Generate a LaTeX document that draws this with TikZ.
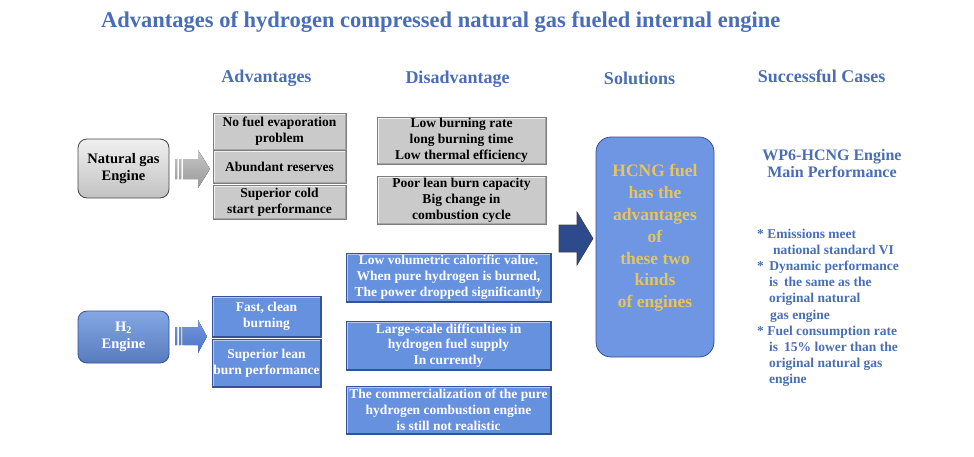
\documentclass[tikz,border=0pt]{standalone}
\usepackage{fontspec}
\setmainfont{Liberation Serif}
\definecolor{ttl}{RGB}{74,110,182}
\definecolor{gfill}{RGB}{202,202,202}
\definecolor{gedge}{RGB}{125,125,125}
\definecolor{bfill}{RGB}{102,145,222}
\definecolor{bedge}{RGB}{52,82,148}
\definecolor{sfill}{RGB}{110,150,226}
\definecolor{gold}{RGB}{232,196,92}
\definecolor{darr}{RGB}{44,74,140}
\definecolor{garr}{RGB}{135,135,135}
\definecolor{barr}{RGB}{72,116,202}
\tikzset{
  bev/.style 2 args={path picture={
    \draw[line width=3pt,#1] (path picture bounding box.south west) -- (path picture bounding box.north west) -- (path picture bounding box.north east);
    \draw[line width=3pt,#2] (path picture bounding box.north east) -- (path picture bounding box.south east) -- (path picture bounding box.south west);}},
  boxfont/.style={font=\bfseries\fontsize{13.5}{15.8}\selectfont},
  gbox/.style={rectangle, draw=gedge, line width=0.6pt, fill=gfill, bev={gray!12}{gray!70}, align=center, boxfont, inner sep=0pt},
  bbox/.style={rectangle, draw=bedge, line width=0.6pt, fill=bfill, bev={bfill!50!white}{bedge}, align=center, text=white, boxfont, inner sep=0pt},
  hdr/.style={text=ttl, font=\bfseries\fontsize{18}{21}\selectfont, anchor=base, inner sep=0pt},
  engbox/.style={rounded corners=9pt, line width=0.8pt, align=center, font=\bfseries\fontsize{14.5}{17}\selectfont, minimum width=91pt, inner sep=0pt},
}
\begin{document}
\begin{tikzpicture}[x=1pt,y=-1pt]
\useasboundingbox (0,0) rectangle (974,456);
\fill[white] (0,0) rectangle (974,456);

% title and headers
\node[anchor=base west, inner sep=0pt, text=ttl, font=\bfseries\fontsize{22.5}{26}\selectfont] (title) at (101,27) {Advantages of hydrogen compressed natural gas fueled internal engine};
\node[hdr] (hadv) at (266.5,82) {Advantages};
\node[hdr] (hdis) at (457.5,83) {Disadvantage};
\node[hdr] (hsol) at (639.5,84) {Solutions};
\node[hdr] (hcas) at (821.5,82) {Successful Cases};

% natural gas engine
\node[engbox, draw=gray!55!black, top color=gray!12, bottom color=gray!48, minimum height=59pt] (ng) at (123.5,168.5) {Natural gas\\Engine};
\fill[top color=gray!45, bottom color=gray!80] (175,159) rectangle (177,179) (179,159) rectangle (181,179)
  (183,159) -- (198,159) -- (198,150) -- (210,169) -- (198,188) -- (198,179) -- (183,179) -- cycle;

\node[gbox, minimum width=133pt, minimum height=37pt] (a1) at (279.5,131.5) {No fuel evaporation\\problem};
\node[gbox, minimum width=133pt, minimum height=33pt] (a2) at (279.5,166.5) {Abundant reserves};
\node[gbox, minimum width=133pt, minimum height=34pt] (a3) at (279.5,202) {Superior cold\\start performance};

\node[gbox, minimum width=169pt, minimum height=47pt] (d1) at (461.5,140.5) {Low burning rate\\long burning time\\Low thermal efficiency};
\node[gbox, minimum width=169pt, minimum height=48pt] (d2) at (461.5,200) {Poor lean burn capacity\\Big change in\\combustion cycle};

% H2 engine
\node[engbox, draw=bedge, top color=bfill!80!white, bottom color=bfill!85!black, text=white, minimum height=52pt] (h2) at (123.5,337) {H\textsubscript{2}\\Engine};
\fill[top color=barr!75!white, bottom color=barr] (175,327) rectangle (177,345) (179,327) rectangle (181,345)
  (182.5,327) -- (198,327) -- (198,320) -- (207,336.5) -- (198,353) -- (198,345) -- (182.5,345) -- cycle;

\node[bbox, minimum width=109pt, minimum height=41pt] (b1) at (266.5,316.5) {Fast, clean\\burning};
\node[bbox, minimum width=109pt, minimum height=48pt] (b2) at (266.5,363) {Superior lean\\burn performance};

\node[bbox, minimum width=205pt, minimum height=49pt] (e1) at (448.5,277.5) {Low volumetric calorific value.\\When pure hydrogen is burned,\\The power dropped significantly};
\node[bbox, minimum width=205pt, minimum height=49pt] (e2) at (448.5,345.5) {Large-scale difficulties in\\hydrogen fuel supply\\In currently};
\node[bbox, minimum width=205pt, minimum height=48pt] (e3) at (448.5,410) {The commercialization of the pure\\hydrogen combustion engine\\is still not realistic};

% big arrow
\filldraw[fill=darr, draw=black!75, line width=0.6pt] (559,225) -- (577,225) -- (577,212) -- (593,238.5) -- (577,265) -- (577,252) -- (559,252) -- cycle;

% solutions
\node[rounded corners=15pt, fill=sfill, draw=bedge, line width=0.8pt, minimum width=118pt, minimum height=220pt, inner sep=0pt] (sol) at (655,247) {};
\node[text=gold, align=center, font=\bfseries\fontsize{17.5}{21.8}\selectfont, inner sep=0pt] (soltxt) at (655,238) {HCNG fuel\\has the\\advantages\\of\\these two\\kinds\\of engines};

% successful cases
\node[text=ttl, align=center, font=\bfseries\fontsize{16}{17}\selectfont, inner sep=0pt, anchor=base] (wp6) at (832,177) {WP6-HCNG Engine\\Main Performance};
\node[anchor=north west, inner sep=0pt, text=ttl, align=left, font=\bfseries\fontsize{13.5}{16.1}\selectfont] (cases) at (757,229) {%
* Emissions meet\\
\hspace*{16pt}national standard VI\\
*\hspace{5.5pt}Dynamic performance\\
\hspace*{12pt}is\hspace{6pt}the same as the\\
\hspace*{12pt}original natural\\
\hspace*{13pt}gas engine\\
* Fuel consumption rate\\
\hspace*{12pt}is\hspace{6pt}15\% lower than the\\
\hspace*{12pt}original natural gas\\
\hspace*{12pt}engine};
\end{tikzpicture}
\end{document}
